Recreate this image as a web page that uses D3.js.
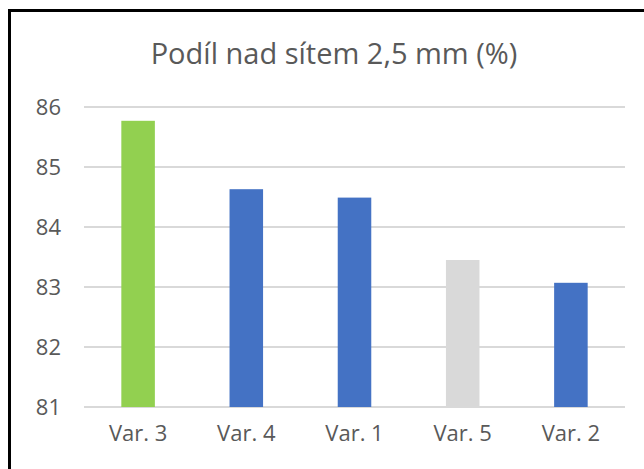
<!DOCTYPE html>
<html>
<head>
<meta charset="utf-8">
<script src="https://cdn.jsdelivr.net/npm/d3@7"></script>
<style>
  body { margin: 0; background: #fff; }
  svg { display: block; }
  text { font-family: "Open Sans", "Noto Sans", sans-serif; fill: #595959; }
</style>
</head>
<body>
<div id="container"></div>
<script>
// chart data
var categories = ['Var. 3', 'Var. 4', 'Var. 1', 'Var. 5', 'Var. 2'];
var values = [85.77, 84.63, 84.49, 83.45, 83.07];
var colors = ['#92D050', '#4472C4', '#4472C4', '#D9D9D9', '#4472C4'];
var yTicks = [81, 82, 83, 84, 85, 86];
var title = 'Podíl nad sítem 2,5 mm (%)';

var width = 644, height = 469;
var margin = {top: 107, right: 19, bottom: 62, left: 84};

var svg = d3.select('#container').append('svg')
    .attr('width', width)
    .attr('height', height);

var x = d3.scaleBand()
    .domain(categories)
    .range([margin.left, width - margin.right])
    .paddingInner(0.69)
    .paddingOuter(0.345);

var y = d3.scaleLinear()
    .domain([81, 86])
    .range([height - margin.bottom, margin.top]);

// gridlines
svg.append('g')
    .selectAll('line')
    .data(yTicks)
    .enter().append('line')
    .attr('x1', margin.left)
    .attr('x2', width - margin.right)
    .attr('y1', function(d) { return y(d); })
    .attr('y2', function(d) { return y(d); })
    .attr('stroke', '#D9D9D9')
    .attr('stroke-width', 2);

// bars
var data = categories.map(function(c, i) {
  return {category: c, value: values[i], color: colors[i]};
});

svg.append('g')
    .selectAll('rect')
    .data(data)
    .enter().append('rect')
    .attr('x', function(d) { return x(d.category); })
    .attr('width', x.bandwidth())
    .attr('y', function(d) { return y(d.value); })
    .attr('height', function(d) { return y(81) - y(d.value); })
    .attr('fill', function(d) { return d.color; });

// y axis labels
var yAxis = d3.axisLeft(y).tickValues(yTicks).tickFormat(d3.format('d'))
    .tickSize(0).tickPadding(0);
var yG = svg.append('g')
    .attr('transform', 'translate(61,0)')
    .call(yAxis);
yG.select('.domain').remove();
yG.selectAll('text')
    .style('font-size', '22px')
    .attr('fill', '#595959')
    .style('font-family', '"Open Sans", sans-serif');

// x axis labels
var xAxis = d3.axisBottom(x).tickSize(0).tickPadding(0);
var xG = svg.append('g')
    .attr('transform', 'translate(0,' + (y(81) + 18) + ')')
    .call(xAxis);
xG.select('.domain').remove();
xG.selectAll('text')
    .style('font-size', '22px')
    .attr('fill', '#595959')
    .style('font-family', '"Open Sans", sans-serif');

// title
svg.append('text')
    .attr('x', 334)
    .attr('y', 64)
    .attr('text-anchor', 'middle')
    .style('font-size', '29px')
    .text(title);

// frame (left and top edges only are visible)
svg.append('path')
    .attr('d', 'M9.5,' + height + 'V10.5H' + width)
    .attr('fill', 'none')
    .attr('stroke', '#000')
    .attr('stroke-width', 3);
</script>
</body>
</html>
